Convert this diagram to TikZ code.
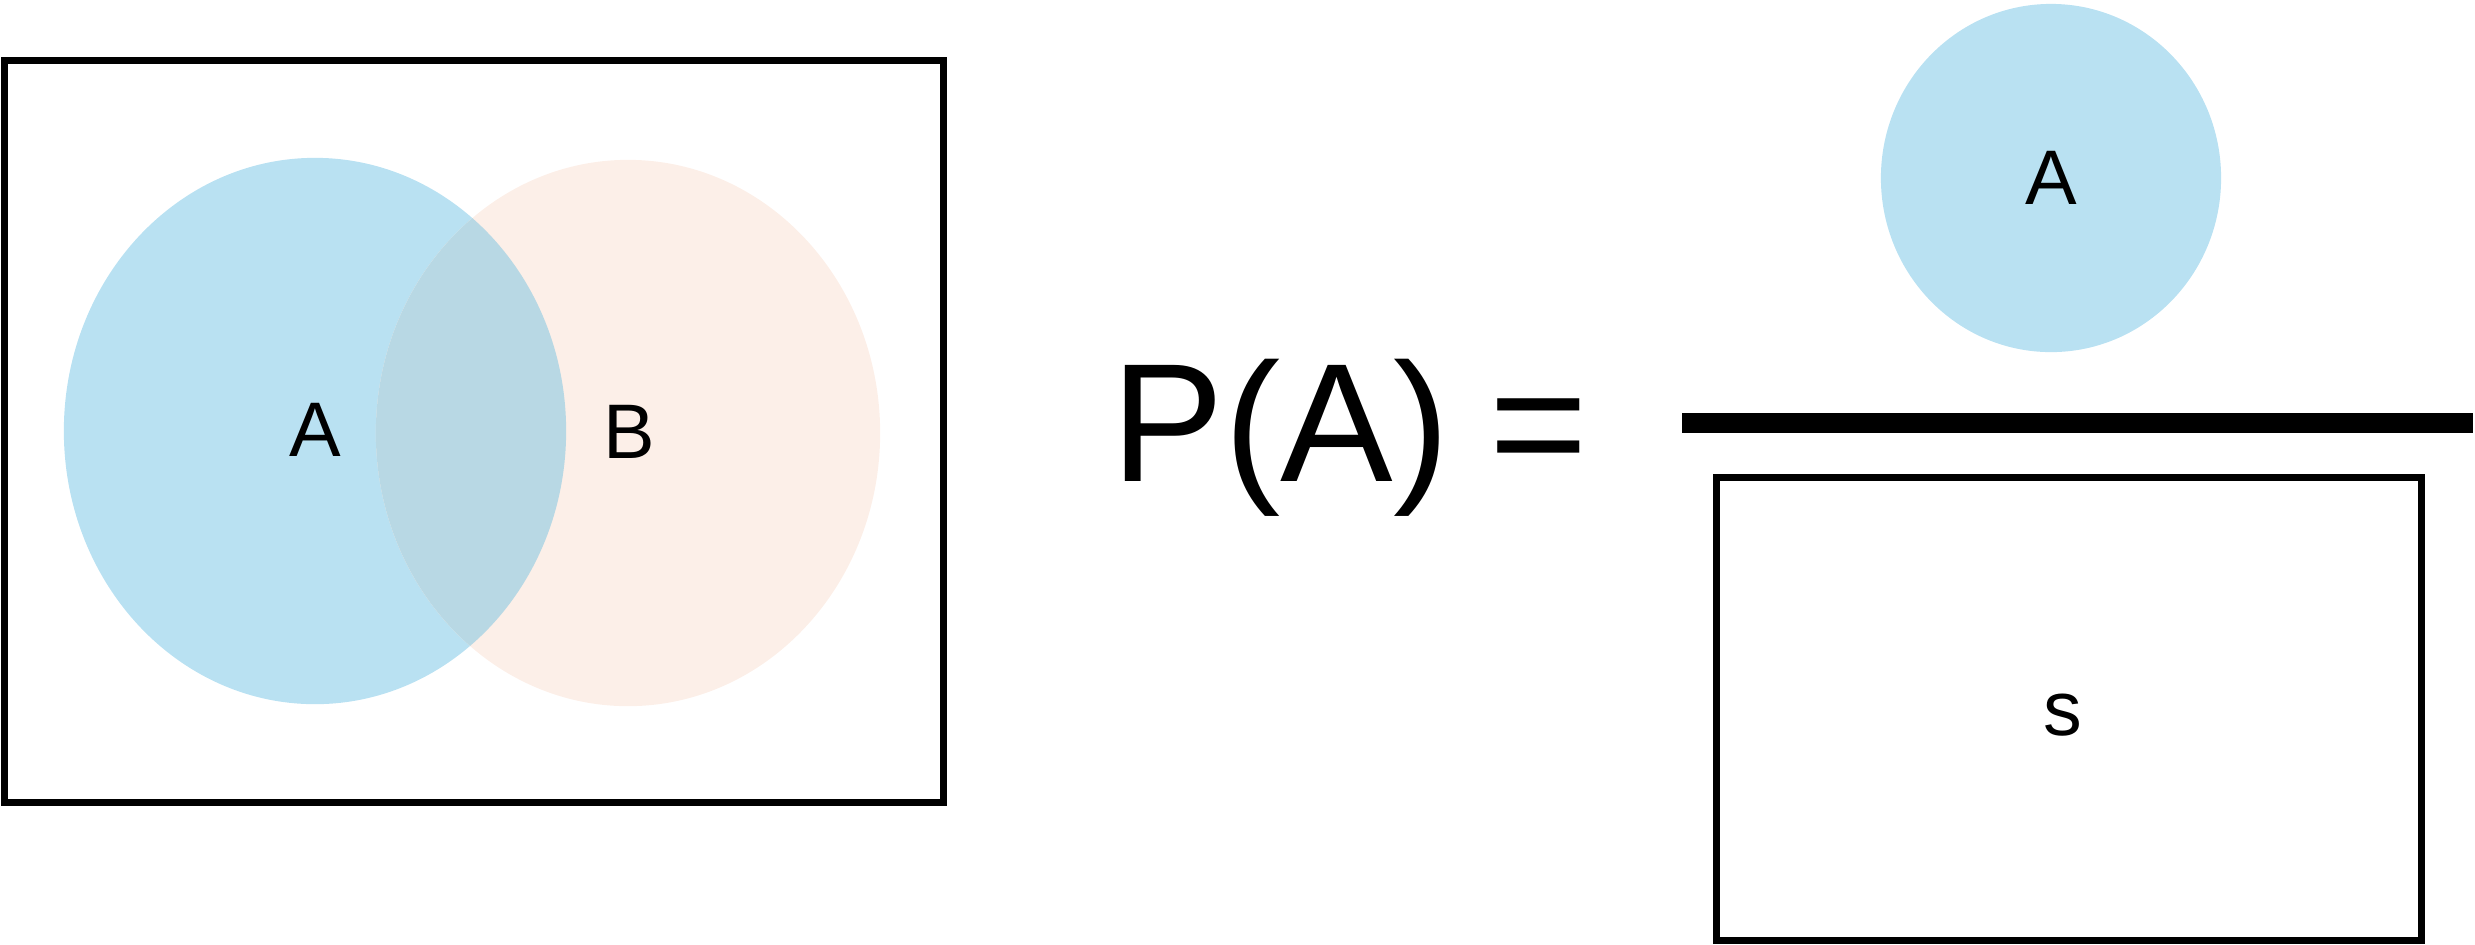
\documentclass[tikz,border=0pt]{standalone}
\usepackage{fontspec}
\setmainfont{Liberation Sans}
\definecolor{setA}{HTML}{B9E1F2}
\definecolor{setB}{HTML}{FCEFE8}
\definecolor{setAB}{HTML}{B8D8E4}
\begin{document}
\begin{tikzpicture}[x=0.01cm,y=-0.01cm,
  frame/.style={draw=black,line width=0.07cm},
  lbl/.style={inner sep=0pt,font=\fontsize{22}{26}\selectfont},
  biglbl/.style={inner sep=0pt,font=\fontsize{48}{56}\selectfont}]
\useasboundingbox (0,0) rectangle (2475,944);
% Venn diagram
\fill[setA] (315,431) ellipse [x radius=2.51cm, y radius=2.73cm];
\fill[setB] (628,433) ellipse [x radius=2.52cm, y radius=2.73cm];
\begin{scope}
  \clip (628,433) ellipse [x radius=2.52cm, y radius=2.73cm];
  \fill[setAB] (315,431) ellipse [x radius=2.51cm, y radius=2.73cm];
\end{scope}
\node[frame,inner sep=0pt,minimum width=9.38cm,minimum height=7.41cm] (S1) at (474,431.5) {};
\node[lbl] (A1) at (315,430) {A};
\node[lbl] (B1) at (629,432) {B};
% formula
\node[biglbl,anchor=base west] (PA) at (1111,481) {P(A)\hspace{-0.07cm} =};
% right side
\fill[setA] (2051,178) ellipse [x radius=1.70cm, y radius=1.74cm];
\node[lbl] (A2) at (2051,178) {A};
\node[fill=black,inner sep=0pt,minimum width=7.91cm,minimum height=0.20cm] (bar) at (2077.5,423) {};
\node[frame,inner sep=0pt,minimum width=7.04cm,minimum height=4.62cm] (S2) at (2069,709) {};
\node[lbl] (s) at (2063,715) {s};
\end{tikzpicture}
\end{document}
